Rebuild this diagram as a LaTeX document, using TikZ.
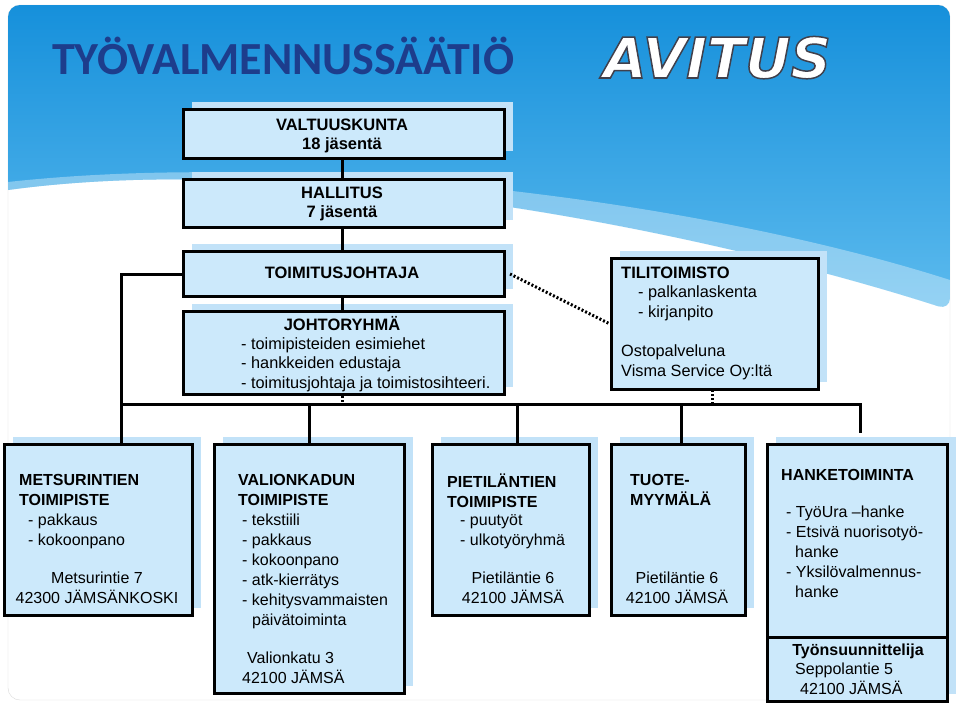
\documentclass[tikz,border=0pt]{standalone}
\usepackage{fontspec}
\setmainfont{Liberation Sans}
\newfontfamily\titlefont{Carlito}
\newfontfamily\logofont{DejaVu Sans}
\usetikzlibrary{shadows, calc}
\definecolor{boxblue}{HTML}{CCE9FB}
\definecolor{shadowblue}{HTML}{C2E2F8}
\definecolor{slidetop}{HTML}{1690DB}
\definecolor{slidemid}{HTML}{5DBBEE}
\definecolor{titleblue}{HTML}{1D3D8C}
\newcommand{\outlinetext}[1]{\special{pdf:literal direct 2 Tr 1.5 w 0.25 0.25 0.3 RG}#1\special{pdf:literal direct 0 Tr}}
\tikzstyle{box} = [rectangle, draw=black, line width=3pt, fill=boxblue, anchor=north west, inner sep=0pt, general shadow={shadow xshift=8pt, shadow yshift=8pt, fill=shadowblue}]
\tikzstyle{txt} = [anchor=base west, inner sep=0pt, font=\fontsize{16}{20}\selectfont]
\tikzstyle{ctxt} = [txt, anchor=base]
\tikzstyle{link} = [line width=3pt]
\tikzstyle{dots} = [line width=3pt, dash pattern=on 2pt off 2pt]
\begin{document}
\begin{tikzpicture}[x=1pt, y=-1pt]
	\useasboundingbox (0,0) rectangle (960,704);
	% slide background
	\fill[white] (0,0) rectangle (960,704);
	\draw[gray!30, fill=white, rounded corners=12pt] (8,5) rectangle (950,700);
	\shade[top color=slidetop, bottom color=slidemid, rounded corners=12pt] (8,190) -- (8,5) -- (950,5) -- (950,310) [sharp corners] .. controls (700,230) and (300,150) .. (8,190);
	\fill[white, opacity=0.35] (8,190) .. controls (300,150) and (700,230) .. (950,310) -- (950,280) .. controls (700,200) and (300,150) .. (8,182) -- cycle;
	\node (Title) [anchor=base west, inner sep=0pt, text=titleblue, font=\titlefont\bfseries\fontsize{46}{46}\selectfont] at (52,74) {TYÖVALMENNUSSÄÄTIÖ};
	\node (Logo) [anchor=base west, inner sep=0pt, text=white, font=\logofont\bfseries\itshape\fontsize{56}{56}\selectfont] at (603,78) {\outlinetext{AVITUS}};
	% upper boxes
	\node (Valtuuskunta) [box, minimum width=321pt, minimum height=49pt] at (182,108) {};
	\node (Hallitus) [box, minimum width=321pt, minimum height=48pt] at (182,178) {};
	\node (Toimitusjohtaja) [box, minimum width=321pt, minimum height=45pt] at (182,250) {};
	\node (Johtoryhma) [box, minimum width=321pt, minimum height=83pt] at (182,310) {};
	\node (Tilitoimisto) [box, minimum width=207pt, minimum height=131pt] at (610,257) {};
	% lower boxes
	\node (Metsurintie) [box, minimum width=188pt, minimum height=171pt] at (3,443) {};
	\node (Valionkatu) [box, minimum width=190pt, minimum height=249pt] at (213,443) {};
	\node (Pietilantie) [box, minimum width=157pt, minimum height=171pt] at (431,443) {};
	\node (Myymala) [box, minimum width=134pt, minimum height=171pt] at (610,443) {};
	\node (Hanke) [box, minimum width=180pt, minimum height=257pt] at (766,443) {};
	\coordinate (HankeDivL) at (766,637);
	\coordinate (HankeDivR) at (946,637);
	\draw [link] (HankeDivL) -- (HankeDivR);
	% texts
	\node (ValtT) [ctxt, font=\fontsize{16.5}{20}\selectfont\bfseries] at (342,130) {VALTUUSKUNTA};
	\node (ValtN) [ctxt, font=\fontsize{16.5}{20}\selectfont\bfseries] at (342,149) {18 jäsentä};
	\node (HallT) [ctxt, font=\fontsize{16.5}{20}\selectfont\bfseries] at (342,198) {HALLITUS};
	\node (HallN) [ctxt, font=\fontsize{16.5}{20}\selectfont\bfseries] at (342,217) {7 jäsentä};
	\node (ToimT) [ctxt, font=\fontsize{16.5}{20}\selectfont\bfseries] at (342,278) {TOIMITUSJOHTAJA};
	\node (JohtT) [ctxt, font=\fontsize{16.5}{20}\selectfont\bfseries] at (342,330) {JOHTORYHMÄ};
	\node (JohtL) [txt, anchor=north west, align=left, font=\fontsize{16.3}{19.5}\selectfont] at (241,337) {- toimipisteiden esimiehet\\- hankkeiden edustaja\\- toimitusjohtaja ja toimistosihteeri.};
	\node (TiliT) [txt, font=\fontsize{16.5}{20}\selectfont\bfseries] at (621,278) {TILITOIMISTO};
	\node (TiliL) [txt, anchor=north west, align=left, font=\fontsize{16.3}{20}\selectfont] at (638,285) {- palkanlaskenta\\- kirjanpito};
	\node (TiliO) [txt, anchor=north west, align=left, font=\fontsize{16.3}{20}\selectfont] at (621,344) {Ostopalveluna\\Visma Service Oy:ltä};
	\node (MetsT) [txt, anchor=north west, align=left, font=\fontsize{16}{20}\selectfont\bfseries] at (19,474) {METSURINTIEN\\TOIMIPISTE};
	\node (MetsL) [txt, anchor=north west, align=left] at (28,514) {- pakkaus\\- kokoonpano};
	\node (MetsA) [txt, anchor=north, align=center] at (97,572) {Metsurintie 7\\42300 JÄMSÄNKOSKI};
	\node (ValiT) [txt, anchor=north west, align=left, font=\fontsize{16}{20}\selectfont\bfseries] at (238,474) {VALIONKADUN\\TOIMIPISTE};
	\node (ValiL) [txt, anchor=north west, align=left] at (242,514) {- tekstiili\\- pakkaus\\- kokoonpano\\- atk-kierrätys\\- kehitysvammaisten\\\hspace*{10pt}päivätoiminta};
	\node (ValiA) [txt, anchor=north west, align=left] at (242,652) {\hspace*{5pt}Valionkatu 3\\42100 JÄMSÄ};
	\node (PietT) [txt, anchor=north west, align=left, font=\fontsize{16}{20}\selectfont\bfseries] at (447,474) {PIETILÄNTIEN\\TOIMIPISTE};
	\node (PietL) [txt, anchor=north west, align=left] at (460,514) {- puutyöt\\- ulkotyöryhmä};
	\node (PietA) [txt, anchor=north, align=center] at (513,572) {Pietiläntie 6\\42100 JÄMSÄ};
	\node (MyymT) [txt, anchor=north west, align=left, font=\fontsize{16}{20}\selectfont\bfseries] at (630,474) {TUOTE-\\MYYMÄLÄ};
	\node (MyymA) [txt, anchor=north, align=center] at (677,572) {Pietiläntie 6\\42100 JÄMSÄ};
	\node (HankT) [txt, font=\fontsize{16}{20}\selectfont\bfseries] at (781,480) {HANKETOIMINTA};
	\node (HankL) [txt, anchor=north west, align=left] at (786,506) {- TyöUra –hanke\\- Etsivä nuorisotyö-\\\hspace*{9pt}hanke\\- Yksilövalmennus-\\\hspace*{9pt}hanke};
	\node (HankS) [ctxt, font=\fontsize{16}{20}\selectfont\bfseries] at (858,655) {Työnsuunnittelija};
	\node (HankA) [txt, anchor=north west, align=left] at (795,663) {Seppolantie 5\\\hspace*{5pt}42100 JÄMSÄ};
	% connectors
	\coordinate (BusL) at (121,404);
	\coordinate (BusR) at (860,404);
	\draw [link] (Valtuuskunta.south -| ToimT) -- (Hallitus.north -| ToimT);
	\draw [link] (Hallitus.south -| ToimT) -- (Toimitusjohtaja.north -| ToimT);
	\draw [link] (Toimitusjohtaja.south -| ToimT) -- (Johtoryhma.north -| ToimT);
	\draw [link] (Toimitusjohtaja.west) -| (BusL) -- (BusR) -- (BusR |- 433,433);
	\draw [link] (Metsurintie.north -| BusL) -- (BusL);
	\draw [link] (Valionkatu.north) -- (Valionkatu.north |- BusL);
	\draw [link] (517,443) -- (517,404);
	\draw [link] (681,443) -- (681,404);
	\draw [dots] (Johtoryhma.south -| ToimT) -- (ToimT |- BusL);
	\draw [dots] (712,390) -- (712,404);
	\draw [dots] (Toimitusjohtaja.east) ++(4,0) -- (Tilitoimisto.west);
\end{tikzpicture}
\end{document}
